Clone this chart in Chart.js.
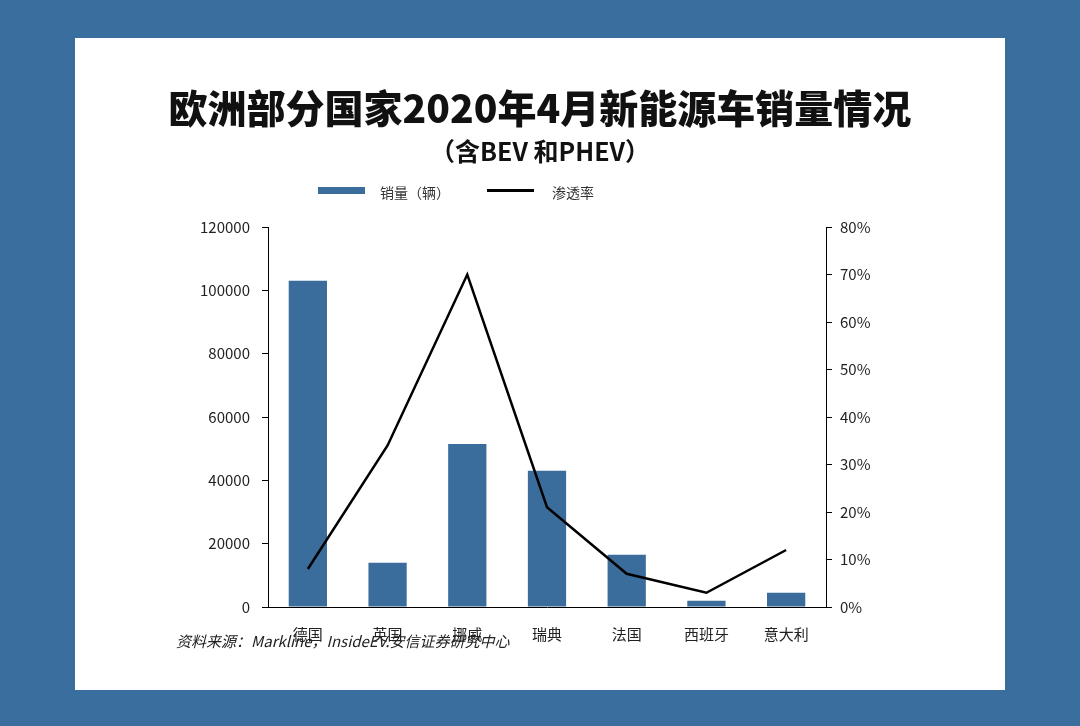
<!DOCTYPE html>
<html>
<head>
<meta charset="utf-8">
<script src="https://cdn.jsdelivr.net/npm/chart.js@4"></script>
<style>
    body { margin: 0; width: 1080px; height: 726px; background: #3a6e9e; font-family: "Noto Sans CJK SC", sans-serif; overflow: hidden; }
    #panel { position: absolute; left: 75px; top: 38px; width: 930px; height: 652px; background: #fff; }
    #title { position: absolute; left: 0; width: 930px; top: 40px; text-align: center; font-size: 39px; font-weight: 900; color: #111; }
    #subtitle { position: absolute; left: 0; width: 930px; top: 94px; text-align: center; font-size: 25px; font-weight: 700; color: #111; }
    #legend { position: absolute; top: 144px; left: 243px; font-size: 14px; color: #333; }
    .sw { position: absolute; top: 8px; width: 47px; }
    .lt { position: absolute; top: 0; white-space: nowrap; }
    #source { position: absolute; left: 101px; top: 592px; font-size: 15px; color: #222; font-style: italic; }
    #wrap { position: absolute; left: 0; top: 0; width: 930px; height: 652px; }
</style>
</head>
<body>
<div id="panel">
    <div id="wrap"><canvas id="chart"></canvas></div>
    <div id="title">欧洲部分国家2020年4月新能源车销量情况</div>
    <div id="subtitle">（含BEV 和PHEV）</div>
    <div id="legend">
        <div class="sw" style="left:0;height:7px;background:#3b6d9c;top:5px"></div>
        <div class="lt" style="left:62px">销量（辆）</div>
        <div class="sw" style="left:169px;height:3px;background:#000;top:7px"></div>
        <div class="lt" style="left:234px">渗透率</div>
    </div>
    <div id="source">资料来源：Markline，InsideEV.安信证券研究中心</div>
</div>
<script>
const countries = ['德国', '英国', '挪威', '瑞典', '法国', '西班牙', '意大利'];
const sales = [103000, 14000, 51500, 43000, 16500, 2000, 4500];
const penetration = [8, 34, 70, 21, 7, 3, 12];

const tickFont = { family: 'Noto Sans CJK SC, sans-serif', size: 15 };
const axisLine = { display: true, color: '#000', width: 1 };

const ctx = document.getElementById('chart').getContext('2d');
new Chart(ctx, {
    data: {
        labels: countries,
        datasets: [{
            type: 'line',
            label: '渗透率',
            data: penetration,
            yAxisID: 'y1',
            borderColor: '#000',
            borderWidth: 2.5,
            pointRadius: 0,
            tension: 0
        }, {
            type: 'bar',
            label: '销量（辆）',
            data: sales,
            yAxisID: 'y',
            backgroundColor: '#3b6d9c',
            barPercentage: 0.48,
            categoryPercentage: 1
        }]
    },
    options: {
        responsive: true,
        maintainAspectRatio: false,
        animation: false,
        layout: { padding: { top: 189, left: 0, right: 0, bottom: 37 } },
        plugins: { legend: { display: false }, tooltip: { enabled: false } },
        scales: {
            x: {
                grid: { display: false },
                border: axisLine,
                ticks: { color: '#222', font: tickFont, padding: 10 }
            },
            y: {
                position: 'left',
                min: 0, max: 120000,
                grid: { drawOnChartArea: false, drawTicks: true, tickLength: 6, color: '#000' },
                border: axisLine,
                ticks: { stepSize: 20000, color: '#222', font: tickFont, padding: 12, callback: v => String(v) },
                afterFit: scale => { scale.width = 193; }
            },
            y1: {
                position: 'right',
                min: 0, max: 80,
                grid: { drawOnChartArea: false, drawTicks: true, tickLength: 6, color: '#000' },
                border: axisLine,
                ticks: { stepSize: 10, color: '#222', font: tickFont, padding: 8, callback: v => v + '%' },
                afterFit: scale => { scale.width = 179; }
            }
        }
    }
});
</script>
</body>
</html>
